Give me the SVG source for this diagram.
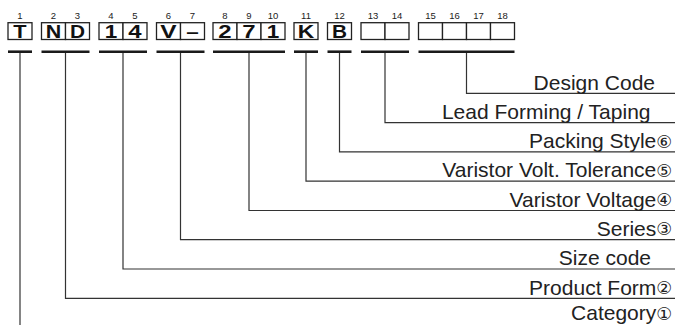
<svg xmlns="http://www.w3.org/2000/svg" width="675" height="325" viewBox="0 0 675 325">
<style>
.cell{fill:#fff;stroke:#222;stroke-width:1.3}
.ch{font-family:"Liberation Sans",Arial,sans-serif;font-weight:bold;font-size:18px;fill:#111;text-anchor:middle}
.num{font-family:"Liberation Sans",Arial,sans-serif;font-size:9.5px;fill:#222;text-anchor:middle}
.bar{stroke:#1a1a1a;stroke-width:2.6;fill:none}
.ln{stroke:#333;stroke-width:1.2;fill:none}
.lbl{font-family:"Liberation Sans",Arial,"DejaVu Sans",sans-serif;font-size:21px;fill:#222;text-anchor:end}
.c{font-family:"DejaVu Sans","Noto Sans CJK JP",sans-serif;font-size:17.5px}
</style>
<rect width="675" height="325" fill="#fff"/>
<g id="digits">
<text class="num" x="20" y="19">1</text>
<text class="num" x="53.5" y="19">2</text>
<text class="num" x="77.5" y="19">3</text>
<text class="num" x="111" y="19">4</text>
<text class="num" x="135" y="19">5</text>
<text class="num" x="168.5" y="19">6</text>
<text class="num" x="192.5" y="19">7</text>
<text class="num" x="225" y="19">8</text>
<text class="num" x="249" y="19">9</text>
<text class="num" x="273" y="19">10</text>
<text class="num" x="306" y="19">11</text>
<text class="num" x="339.5" y="19">12</text>
<text class="num" x="373" y="19">13</text>
<text class="num" x="397" y="19">14</text>
<text class="num" x="430.5" y="19">15</text>
<text class="num" x="454.5" y="19">16</text>
<text class="num" x="478.5" y="19">17</text>
<text class="num" x="502.5" y="19">18</text>
</g>
<g id="node-category">
<rect class="cell" x="8" y="22.7" width="24" height="16.8"/>
<text class="ch" x="20" y="38.3" textLength="13.3" lengthAdjust="spacingAndGlyphs">T</text>
<line class="bar" x1="8" y1="51.7" x2="32" y2="51.7"/>
</g>
<g id="node-product-form">
<rect class="cell" x="41.5" y="22.7" width="24" height="16.8"/>
<rect class="cell" x="65.5" y="22.7" width="24" height="16.8"/>
<text class="ch" x="53.5" y="38.3" textLength="15.5" lengthAdjust="spacingAndGlyphs">N</text>
<text class="ch" x="77.5" y="38.3" textLength="15" lengthAdjust="spacingAndGlyphs">D</text>
<line class="bar" x1="41.5" y1="51.7" x2="89.5" y2="51.7"/>
</g>
<g id="node-size">
<rect class="cell" x="99" y="22.7" width="24" height="16.8"/>
<rect class="cell" x="123" y="22.7" width="24" height="16.8"/>
<text class="ch" x="111" y="38.3" textLength="12.5" lengthAdjust="spacingAndGlyphs">1</text>
<text class="ch" x="135" y="38.3" textLength="13.3" lengthAdjust="spacingAndGlyphs">4</text>
<line class="bar" x1="99" y1="51.7" x2="147" y2="51.7"/>
</g>
<g id="node-series">
<rect class="cell" x="156.5" y="22.7" width="24" height="16.8"/>
<rect class="cell" x="180.5" y="22.7" width="24" height="16.8"/>
<text class="ch" x="168.5" y="38.3" textLength="16.3" lengthAdjust="spacingAndGlyphs">V</text>
<text class="ch" x="192.5" y="37.5" textLength="12.5" lengthAdjust="spacingAndGlyphs">–</text>
<line class="bar" x1="156.5" y1="51.7" x2="204.5" y2="51.7"/>
</g>
<g id="node-voltage">
<rect class="cell" x="213" y="22.7" width="24" height="16.8"/>
<rect class="cell" x="237" y="22.7" width="24" height="16.8"/>
<rect class="cell" x="261" y="22.7" width="24" height="16.8"/>
<text class="ch" x="225" y="38.3" textLength="13.3" lengthAdjust="spacingAndGlyphs">2</text>
<text class="ch" x="249" y="38.3" textLength="13.3" lengthAdjust="spacingAndGlyphs">7</text>
<text class="ch" x="273" y="38.3" textLength="12.5" lengthAdjust="spacingAndGlyphs">1</text>
<line class="bar" x1="213" y1="51.7" x2="285" y2="51.7"/>
</g>
<g id="node-tolerance">
<rect class="cell" x="294" y="22.7" width="24" height="16.8"/>
<text class="ch" x="306" y="38.3" textLength="16.5" lengthAdjust="spacingAndGlyphs">K</text>
<line class="bar" x1="294" y1="51.7" x2="318" y2="51.7"/>
</g>
<g id="node-packing">
<rect class="cell" x="327.5" y="22.7" width="24" height="16.8"/>
<text class="ch" x="339.5" y="38.3" textLength="15" lengthAdjust="spacingAndGlyphs">B</text>
<line class="bar" x1="327.5" y1="51.7" x2="351.5" y2="51.7"/>
</g>
<g id="node-lead-forming">
<rect class="cell" x="361" y="22.7" width="24" height="16.8"/>
<rect class="cell" x="385" y="22.7" width="24" height="16.8"/>
<line class="bar" x1="361" y1="51.7" x2="409" y2="51.7"/>
</g>
<g id="node-design-code">
<rect class="cell" x="418.5" y="22.7" width="24" height="16.8"/>
<rect class="cell" x="442.5" y="22.7" width="24" height="16.8"/>
<rect class="cell" x="466.5" y="22.7" width="24" height="16.8"/>
<rect class="cell" x="490.5" y="22.7" width="24" height="16.8"/>
<line class="bar" x1="418.5" y1="51.7" x2="514.5" y2="51.7"/>
</g>
<g id="connectors">
<polyline class="ln" points="466.5,53 466.5,93.3 675,93.3"/>
<polyline class="ln" points="385,53 385,122.6 675,122.6"/>
<polyline class="ln" points="339.5,53 339.5,151.9 675,151.9"/>
<polyline class="ln" points="306,53 306,181.2 675,181.2"/>
<polyline class="ln" points="249,53 249,210.5 675,210.5"/>
<polyline class="ln" points="180.5,53 180.5,239.7 675,239.7"/>
<polyline class="ln" points="123,53 123,269 675,269"/>
<polyline class="ln" points="65.5,53 65.5,298.3 675,298.3"/>
<polyline class="ln" points="20,53 20,325"/>
</g>
<g id="labels">
<text class="lbl" x="655" y="89.5">Design Code</text>
<text class="lbl" x="650.5" y="118.8">Lead Forming / Taping</text>
<text class="lbl" x="672" y="148.1">Packing Style<tspan class="c" dy="-0.5">⑥</tspan></text>
<text class="lbl" x="672" y="177.4">Varistor Volt. Tolerance<tspan class="c" dy="-0.5">⑤</tspan></text>
<text class="lbl" x="672" y="206.7">Varistor Voltage<tspan class="c" dy="-0.5">④</tspan></text>
<text class="lbl" x="672" y="235.9">Series<tspan class="c" dy="-0.5">③</tspan></text>
<text class="lbl" x="651" y="265.2">Size code</text>
<text class="lbl" x="672" y="294.5">Product Form<tspan class="c" dy="-0.5">②</tspan></text>
<text class="lbl" x="672" y="320">Category<tspan class="c" dy="-0.5">①</tspan></text>
</g>
</svg>
